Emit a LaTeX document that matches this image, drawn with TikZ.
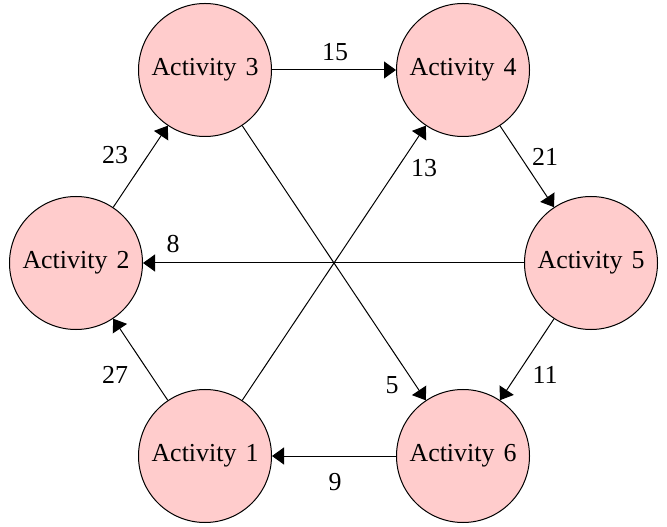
\documentclass[tikz,border=0pt]{standalone}
\usepackage{fontspec}
\setmainfont{Liberation Serif}
\usetikzlibrary{arrows.meta}

\definecolor{actpink}{RGB}{255,204,204}

\tikzset{
  activity/.style={circle, draw, fill=actpink, line width=0.5bp,
    minimum size=66.5bp, inner sep=0pt, font=\fontsize{13}{15}\selectfont},
  flow/.style={-{Triangle[length=6bp,width=8.5bp]}, line width=0.5bp},
  weight/.style={inner sep=0pt, font=\fontsize{13}{15}\selectfont}
}

\begin{document}
\begin{tikzpicture}[x=0.5bp, y=-0.5bp]
  \useasboundingbox (0,0) rectangle (667,527);

  % activities
  \node[activity] (a3) at (205,70)  {Activity\hspace{0.35em}3};
  \node[activity] (a4) at (463,70)  {Activity\hspace{0.35em}4};
  \node[activity] (a2) at (76,263)  {Activity\hspace{0.35em}2};
  \node[activity] (a5) at (591,263) {Activity\hspace{0.35em}5};
  \node[activity] (a1) at (205,456) {Activity\hspace{0.35em}1};
  \node[activity] (a6) at (463,456) {Activity\hspace{0.35em}6};

  % dependencies
  \draw[flow] (a3) -- (a4);
  \draw[flow] (a4) -- (a5);
  \draw[flow] (a2) -- (a3);
  \draw[flow] (a1) -- (a2);
  \draw[flow] (a1) -- (a4);
  \draw[flow] (a3) -- (a6);
  \draw[flow] (a5) -- (a2);
  \draw[flow] (a5) -- (a6);
  \draw[flow] (a6) -- (a1);

  % weights
  \node[weight] (w15) at (335,52)  {15};
  \node[weight] (w21) at (545,157) {21};
  \node[weight] (w23) at (115,155) {23};
  \node[weight] (w13) at (424,168) {13};
  \node[weight] (w8)  at (173,244) {8};
  \node[weight] (w27) at (115,375) {27};
  \node[weight] (w5)  at (392,385) {5};
  \node[weight] (w11) at (545,375) {11};
  \node[weight] (w9)  at (335,482) {9};
\end{tikzpicture}
\end{document}
